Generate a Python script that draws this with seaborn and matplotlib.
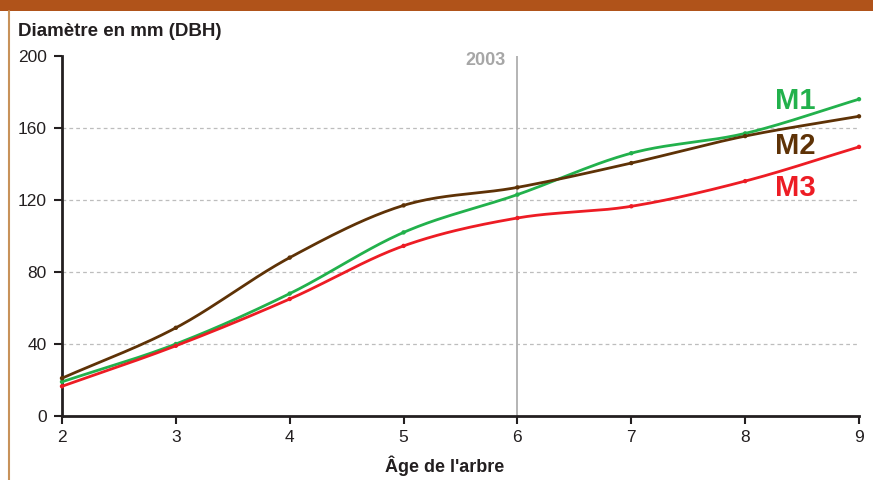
import matplotlib
matplotlib.use("Agg")
import matplotlib.pyplot as plt
import numpy as np
import pandas as pd
import seaborn as sns
from matplotlib.lines import Line2D
from matplotlib.patches import Rectangle

# ---------------------------------------------------------------------------
# Data
# ---------------------------------------------------------------------------
AGES = [2, 3, 4, 5, 6, 7, 8, 9]
M1 = [19, 40, 68, 102, 123, 146, 157, 176]
M2 = [21, 49, 88, 117, 127, 140.5, 155.5, 166.5]
M3 = [16.5, 39, 65, 94.5, 110, 116.5, 130.5, 149.5]
SERIES = {"M1": M1, "M2": M2, "M3": M3}

COLORS = {"M1": "#22b14c", "M2": "#5e3206", "M3": "#ed1c24"}
Y_TICKS = [0, 40, 80, 120, 160, 200]
X_TICKS = AGES
MARK_YEAR_AGE = 6
MARK_YEAR_LABEL = "2003"

NARROW = ["Liberation Sans", "DejaVu Sans"]


def smooth(x, y, n=24):
    """Catmull-Rom curve through the points, for drawing only."""
    x = np.asarray(x, float)
    y = np.asarray(y, float)
    px = np.concatenate([[2 * x[0] - x[1]], x, [2 * x[-1] - x[-2]]])
    py = np.concatenate([[2 * y[0] - y[1]], y, [2 * y[-1] - y[-2]]])
    xs, ys = [], []
    t = np.linspace(0, 1, n, endpoint=False)
    for i in range(1, len(px) - 2):
        for arr, out in ((px, xs), (py, ys)):
            p0, p1, p2, p3 = arr[i - 1], arr[i], arr[i + 1], arr[i + 2]
            out.extend(0.5 * (2 * p1 + (-p0 + p2) * t
                              + (2 * p0 - 5 * p1 + 4 * p2 - p3) * t ** 2
                              + (-p0 + 3 * p1 - 3 * p2 + p3) * t ** 3))
    xs.append(x[-1])
    ys.append(y[-1])
    return np.array(xs), np.array(ys)


sns.set_theme(style="ticks")
plt.rcParams["font.family"] = NARROW

curves = []
points = []
for name, vals in SERIES.items():
    sx, sy = smooth(AGES, vals)
    curves.append(pd.DataFrame({"age": sx, "dbh": sy, "serie": name}))
    points.append(pd.DataFrame({"age": AGES, "dbh": vals, "serie": name}))
curve_df = pd.concat(curves, ignore_index=True)
point_df = pd.concat(points, ignore_index=True)

fig = plt.figure(figsize=(8.73, 4.8), dpi=100)
ax = fig.add_axes([62 / 873, 1 - 416 / 480, 797 / 873, 360 / 480])

# grid (dashed, not at 0/200)
for yv in Y_TICKS[1:-1]:
    ax.axhline(yv, color="#bdbdbd", lw=0.9, ls=(0, (3, 2.5)), zorder=0)

# 2003 marker
ax.axvline(MARK_YEAR_AGE, color="#b4b4b4", lw=1.4, zorder=1)
ax.text(MARK_YEAR_AGE - 0.1, 197.5, MARK_YEAR_LABEL, ha="right", va="center",
        color="#a6a6a6", fontsize=13, fontweight="bold")

sns.lineplot(data=curve_df, x="age", y="dbh", hue="serie", palette=COLORS,
             ax=ax, lw=2.0, legend=False, sort=False, estimator=None,
             units="serie", clip_on=False, zorder=3)
sns.scatterplot(data=point_df, x="age", y="dbh", hue="serie", palette=COLORS,
                ax=ax, s=10, linewidth=0, legend=False, clip_on=False,
                zorder=4)

# series labels
label_pos = {"M1": 101, "M2": 146, "M3": 188}
for name, ypx in label_pos.items():
    fig.text(775 / 873, 1 - ypx / 480, name, color=COLORS[name],
             fontsize=21, fontweight="bold", va="center", ha="left")

ax.set_xlim(2, 9)
ax.set_ylim(0, 200)
ax.set_xticks(X_TICKS)
ax.set_yticks(Y_TICKS)
ax.set_xlabel("")
ax.set_ylabel("")
ax.tick_params(axis="both", labelsize=12.5, length=6, width=1.5,
               color="#231f20", labelcolor="#231f20", direction="out")
ax.tick_params(axis="y", pad=5)
ax.tick_params(axis="x", pad=4)
for side in ("top", "right"):
    ax.spines[side].set_visible(False)
for side in ("left", "bottom"):
    ax.spines[side].set_linewidth(2)
    ax.spines[side].set_color("#231f20")

fig.text(18 / 873, 1 - 31 / 480, "Diamètre en mm (DBH)", fontsize=13.5,
         fontweight="bold", va="center", ha="left", color="#231f20")
fig.text(445 / 873, 1 - 466 / 480, "Âge de l'arbre", fontsize=13,
         fontweight="bold", va="center", ha="center", color="#231f20")

# frame decoration: orange band on top, thin tan rule on the left
fig.add_artist(Rectangle((0, 1 - 11 / 480), 1, 11 / 480,
                         transform=fig.transFigure, color="#b0531a", lw=0))
fig.add_artist(Line2D([8.5 / 873, 8.5 / 873], [0, 1 - 11 / 480],
                      transform=fig.transFigure, color="#c8925a", lw=1.5))

fig.savefig("out.png", dpi=100)
